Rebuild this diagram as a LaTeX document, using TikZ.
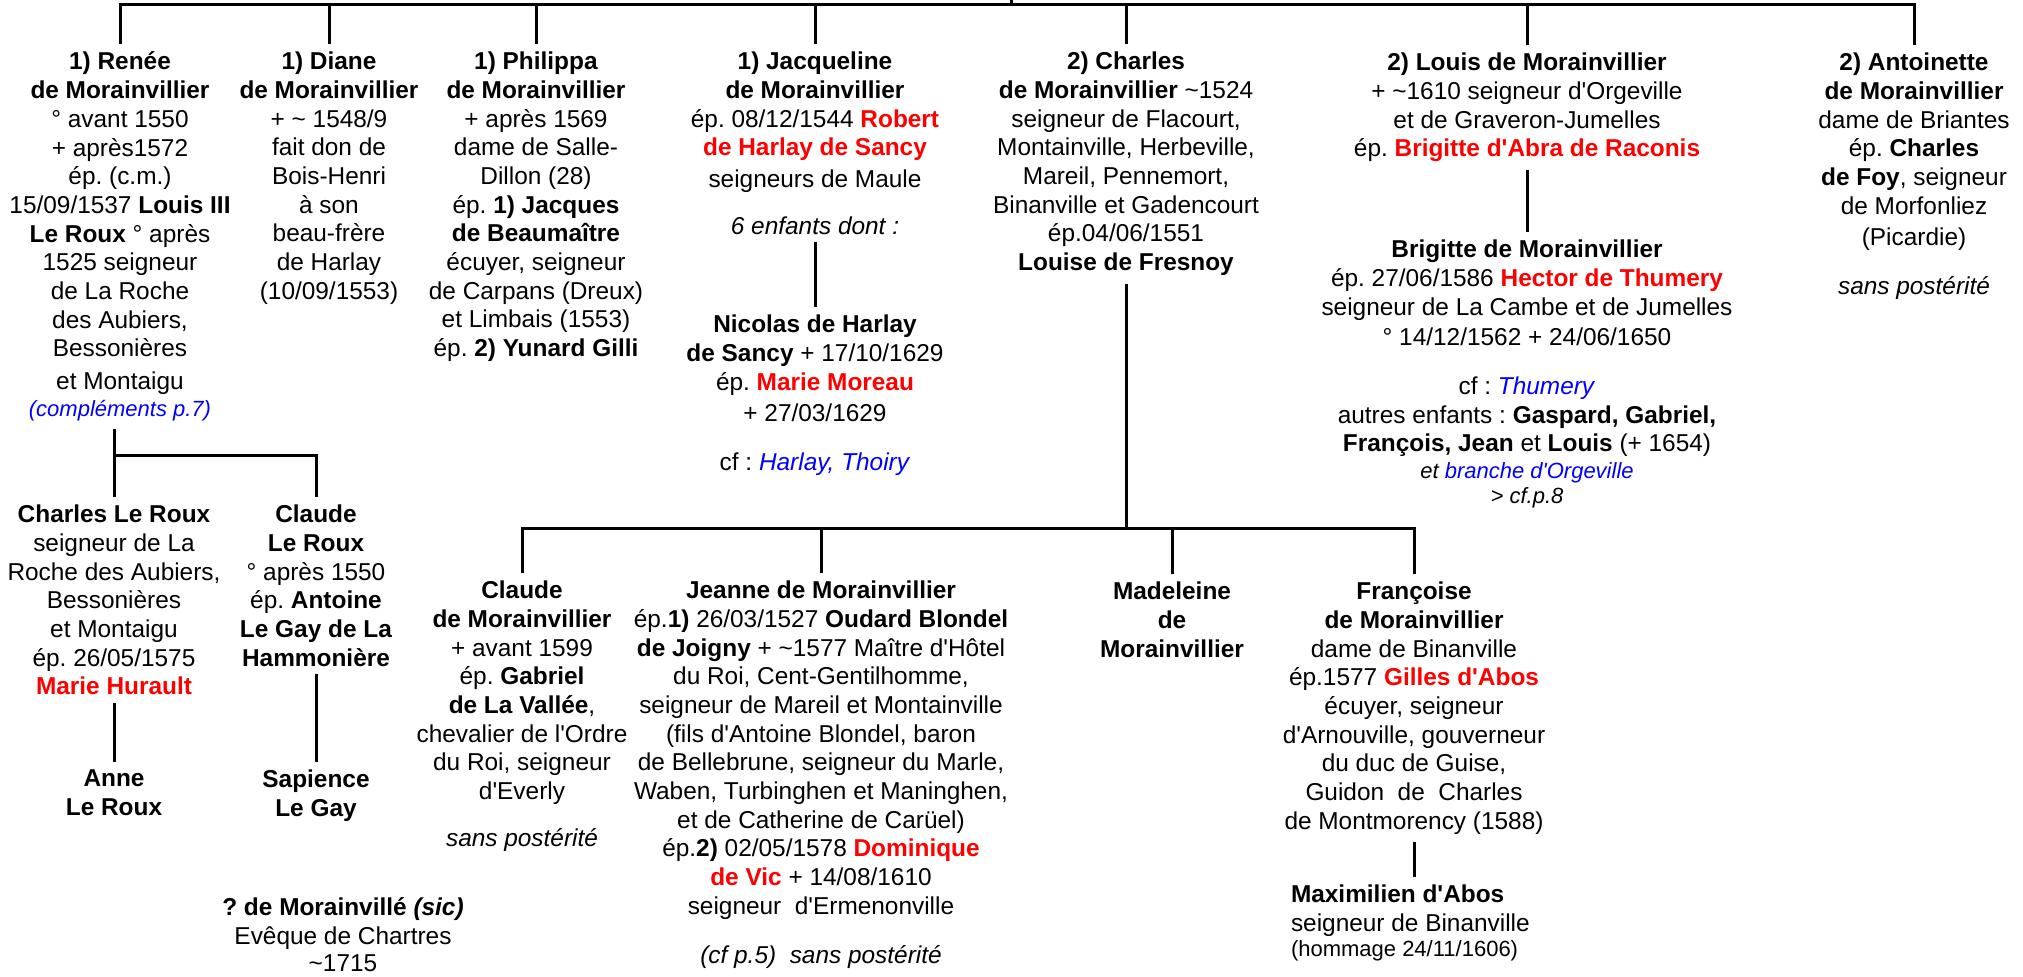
\documentclass[tikz,border=0pt]{standalone}
\usepackage{fontspec}
\setmainfont{Liberation Sans}[Ligatures=TeXOff]
\usepackage{tikz}

\definecolor{spouse}{RGB}{255,0,0}
\definecolor{xref}{RGB}{0,0,255}
\newcommand{\treefont}{\fontsize{12.2pt}{14.35pt}\selectfont}
\newcommand{\notefont}{\fontsize{11pt}{13pt}\selectfont\itshape}
\frenchspacing

\begin{document}
\begin{tikzpicture}[x=0.5pt,y=-0.5pt,
  person/.style={align=center,inner sep=0pt,outer sep=4pt,anchor=north,font=\treefont},
  tree/.style={line width=1.5pt}]
\useasboundingbox (0,0) rectangle (2023,976);
% first generation
\node[person] (renee) at (120,44) {\textbf{1) Renée}\\\textbf{de Morainvillier}\\° avant 1550\\+ après1572\\ép. (c.m.)\\15/09/1537 \textbf{Louis III}\\\textbf{Le Roux} ° après\\1525 seigneur\\de La Roche\\des Aubiers,\\Bessonières\\[2pt]et Montaigu\\[-1pt]{\notefont\color{xref}(compléments p.7)}};
\node[person] (diane) at (329,44) {\textbf{1) Diane}\\\textbf{de Morainvillier}\\+ \textasciitilde{} 1548/9\\fait don de\\Bois-Henri\\à son\\beau-frère\\de Harlay\\(10/09/1553)};
\node[person] (philippa) at (536,44) {\textbf{1) Philippa}\\\textbf{de Morainvillier}\\+ après 1569\\dame de Salle-\\Dillon (28)\\ép. \textbf{1) Jacques}\\\textbf{de Beaumaître}\\écuyer, seigneur\\de Carpans (Dreux)\\et Limbais (1553)\\ép. \textbf{2) Yunard Gilli}};
\node[person] (jacqueline) at (815,44) {\textbf{1) Jacqueline}\\\textbf{de Morainvillier}\\ép. 08/12/1544 \textcolor{spouse}{\textbf{Robert}}\\\textcolor{spouse}{\textbf{de Harlay de Sancy}}\\[1.5pt]seigneurs de Maule\\[9pt]\textit{6 enfants dont :}};
\node[person] (charles) at (1126,44) {\textbf{2) Charles}\\\textbf{de Morainvillier} \textasciitilde1524\\seigneur de Flacourt,\\Montainville, Herbeville,\\Mareil, Pennemort,\\Binanville et Gadencourt\\ép.04/06/1551\\\textbf{Louise de Fresnoy}};
\node[person] (louis) at (1527,45) {\textbf{2) Louis de Morainvillier}\\+ \textasciitilde1610 seigneur d'Orgeville\\et de Graveron-Jumelles\\ép. \textcolor{spouse}{\textbf{Brigitte d'Abra de Raconis}}};
\node[person] (antoinette) at (1914,45) {\textbf{2) Antoinette}\\\textbf{de Morainvillier}\\dame de Briantes\\ép. \textbf{Charles}\\\textbf{de Foy}, seigneur\\de Morfonliez\\[1.5pt](Picardie)\\[10pt]\textit{sans postérité}};
% grandchildren
\node[person] (nicolas) at (815,307) {\textbf{Nicolas de Harlay}\\\textbf{de Sancy} + 17/10/1629\\ép. \textcolor{spouse}{\textbf{Marie Moreau}}\\[1.5pt]+ 27/03/1629\\[10pt]cf : \textcolor{xref}{\textit{Harlay, Thoiry}}};
\node[person] (brigitte) at (1527,232) {\textbf{Brigitte de Morainvillier}\\ép. 27/06/1586 \textcolor{spouse}{\textbf{Hector de Thumery}}\\seigneur de La Cambe et de Jumelles\\[1pt]° 14/12/1562 + 24/06/1650\\[10pt]cf : \textcolor{xref}{\textit{Thumery}}\\autres enfants : \textbf{Gaspard, Gabriel,}\\\textbf{François, Jean} et \textbf{Louis} (+ 1654)\\[-1pt]{\notefont et\ \textcolor{xref}{branche\ d'Orgeville}}\\[-2pt]{\notefont > cf.p.8}};
\node[person] (charlesroux) at (114,497) {\textbf{Charles Le Roux}\\seigneur de La\\Roche des Aubiers,\\Bessonières\\et Montaigu\\ép. 26/05/1575\\\textcolor{spouse}{\textbf{Marie Hurault}}};
\node[person] (clauderoux) at (316,497) {\textbf{Claude}\\\textbf{Le Roux}\\° après 1550\\ép. \textbf{Antoine}\\\textbf{Le Gay de La}\\\textbf{Hammonière}};
\node[person] (anne) at (114,762) {\textbf{Anne}\\\textbf{Le Roux}};
\node[person] (sapience) at (316,762) {\textbf{Sapience}\\\textbf{Le Gay}};
\node[person] (eveque) at (343,890) {\textbf{? de Morainvillé \textit{(sic)}}\\Evêque de Chartres\\[-1pt]\textasciitilde1715};
% children of Charles
\node[person] (claudem) at (522,573) {\textbf{Claude}\\\textbf{de Morainvillier}\\+ avant 1599\\ép. \textbf{Gabriel}\\\textbf{de La Vallée},\\chevalier de l'Ordre\\du Roi, seigneur\\d'Everly\\[9pt]\textit{sans postérité}};
\node[person] (jeanne) at (821,573) {\textbf{Jeanne de Morainvillier}\\ép.\textbf{1)} 26/03/1527 \textbf{Oudard Blondel}\\\textbf{de Joigny} + \textasciitilde1577 Maître d'Hôtel\\du Roi, Cent-Gentilhomme,\\seigneur de Mareil et Montainville\\(fils d'Antoine Blondel, baron\\de Bellebrune, seigneur du Marle,\\Waben, Turbinghen et Maninghen,\\et de Catherine de Carüel)\\ép.\textbf{2)} 02/05/1578 \textcolor{spouse}{\textbf{Dominique}}\\\textcolor{spouse}{\textbf{de Vic}} + 14/08/1610\\seigneur\ \ d'Ermenonville\\[10pt]\textit{(cf p.5)\ \ sans postérité}};
\node[person] (madeleine) at (1172,574) {\textbf{Madeleine}\\\textbf{de}\\\textbf{Morainvillier}};
\node[person] (francoise) at (1414,574) {\textbf{Françoise}\\\textbf{de Morainvillier}\\dame de Binanville\\ép.1577 \textcolor{spouse}{\textbf{Gilles d'Abos}}\\écuyer, seigneur\\d'Arnouville, gouverneur\\du duc de Guise,\\Guidon\ \ de\ \ Charles\\de Montmorency (1588)};
\node[person,anchor=north west,align=left] (maximilien) at (1283,877) {\textbf{Maximilien d'Abos}\\seigneur de Binanville\\[-2pt]{\fontsize{11pt}{13pt}\selectfont(hommage 24/11/1606)}};
% connectors
\coordinate (root) at (1011,0);
\coordinate (bus) at (1011,4);
\draw[tree] (root) -- (bus);
\draw[tree] (renee.north) |- (bus) -| (antoinette.north);
\foreach \n in {diane,philippa,jacqueline,charles,louis}
  \draw[tree] (\n.north) -- (\n.north |- bus);
\draw[tree] (jacqueline.south) -- (nicolas.north);
\draw[tree] (louis.south) -- (brigitte.north);
\coordinate (rouxbus) at (114,455);
\draw[tree] (renee.south -| charlesroux.north) -- (charlesroux.north);
\draw[tree] (rouxbus) -| (clauderoux.north);
\draw[tree] (charlesroux.south) -- (anne.north);
\draw[tree] (clauderoux.south) -- (sapience.north);
\coordinate (kidsbus) at (1126,528);
\draw[tree] (charles.south) -- (kidsbus);
\draw[tree] (claudem.north) |- (kidsbus) -| (francoise.north);
\foreach \n in {jeanne,madeleine}
  \draw[tree] (\n.north) -- (\n.north |- kidsbus);
\draw[tree] (francoise.south) -- (francoise.south |- maximilien.north);
\end{tikzpicture}
\end{document}
